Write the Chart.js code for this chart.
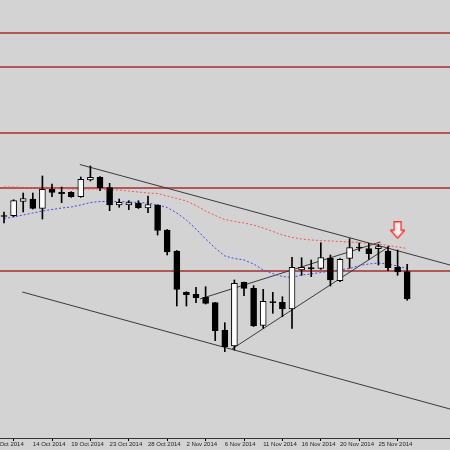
<!DOCTYPE html>
<html>
<head>
<meta charset="utf-8">
<script src="https://cdn.jsdelivr.net/npm/chart.js@4.4.0/dist/chart.umd.min.js"></script>
<style>
  html, body { margin: 0; padding: 0; background: #d3d3d3; }
  canvas { display: block; }
</style>
</head>
<body>
<canvas id="chart" width="450" height="450"></canvas>
<script>
// daily candles, 10 Oct 2014 (bar 1) .. 28 Nov 2014 (bar 43)
const opens  = [222.5, 222.3, 236.7, 239, 229.7, 248.7, 245.7, 245.7, 241.3, 258, 260.7, 250.3, 233, 233, 234.7, 230,
                233, 208, 187, 145.7, 143.7, 140.7, 135.3, 108, 92, 155.7, 149.7, 112.7, 136.3, 135.7, 129, 168,
                170.3, 169.7, 180, 157.3, 179.7, 191, 189.3, 189.3, 187, 170.7, 166.3];
const highs  = [226, 238.3, 245, 245, 262, 254, 251, 246.3, 261, 272, 261.5, 254.7, 239, 237.3, 237.3, 242,
                233.3, 208.5, 187.5, 146.3, 150.7, 151.3, 135.5, 115.3, 158, 156, 152.3, 148.7, 145.7, 141.3, 180.7, 180.3,
                178, 195.3, 183, 179.5, 199.3, 195, 194.7, 193.7, 191.3, 188, 173.7];
const lows   = [215, 221.3, 226, 229, 219, 241.3, 235.3, 240.7, 240.7, 257, 247.3, 227.3, 230.7, 228.3, 229.5, 225.3,
                203, 183, 132, 132, 135.3, 134, 97.3, 86.3, 88, 142.3, 111.5, 109.7, 124.7, 121.3, 109.7, 162.7,
                161.3, 168.7, 152, 156.3, 169.7, 187, 178.7, 173, 167.3, 162.7, 137.7];
const closes = [221.5, 237.3, 239.3, 229.7, 248.7, 245.7, 244.3, 241.3, 258.7, 260.7, 250.3, 233, 235.7, 235.3, 230.3, 233.3,
                207.5, 186, 148.7, 143.3, 140.3, 134.7, 107.3, 91.3, 154.7, 149.7, 112, 136.7, 135.3, 129, 170.7, 170.7,
                169, 180.3, 158, 178.7, 190.3, 190, 184.3, 191.3, 170.3, 166, 139];

// moving averages (dotted)
const maFast = [219.5, 221, 223, 225, 227, 228.5, 230, 231, 233, 235.5, 236.5, 236.5, 236.5, 236, 235.5, 235,
                233, 230.5, 225, 218, 209, 199, 190, 182, 179.5, 178, 174, 168, 164.5, 161.5, 160.5, 163,
                164, 165.5, 167, 168, 169.5, 172.5, 174, 175, 174, 172, 169.5];
const maSlow = [251, 251, 250.5, 250, 250, 250, 249.5, 249, 249, 249, 249, 248.5, 248, 247, 246, 245,
                244.5, 242, 239.5, 237, 232.5, 227, 222.5, 218.5, 216.5, 215, 213, 210, 206.5, 203, 200.5, 199,
                198, 197.5, 197, 196.5, 196, 195.5, 194.5, 194, 192.5, 191, 189.5];

// horizontal levels and trend lines ([bar, price] pairs)
const levels = [405, 371, 305, 250, 167];
const trendLines = [
  [[8.9, 273.5], [47.46, 173]],
  [[2.9, 146], [47.46, 29]],
  [[21.4, 139], [40.2, 196]],
  [[24.75, 89], [41.2, 192]]
];

// one label every 4 bars, starting at bar 0 (9 Oct)
const tickLabels = ['9 Oct 2014', '14 Oct 2014', '19 Oct 2014', '23 Oct 2014', '28 Oct 2014', '2 Nov 2014',
                    '6 Nov 2014', '11 Nov 2014', '16 Nov 2014', '20 Nov 2014', '25 Nov 2014'];

const signalBar = 42;
const signalPrice = 207.8;

const xMin = 0.583, xMax = 47.458;
const bars = opens.map((_, i) => i + 1);

// hollow red down arrow
const arrow = document.createElement('canvas');
arrow.width = 15; arrow.height = 18;
const a = arrow.getContext('2d');
a.beginPath();
a.moveTo(4, 0.5); a.lineTo(11, 0.5); a.lineTo(11, 9); a.lineTo(14.5, 9);
a.lineTo(7.5, 17); a.lineTo(0.5, 9); a.lineTo(4, 9); a.closePath();
a.fillStyle = '#eeeeee'; a.fill();
a.strokeStyle = '#ff3030'; a.lineWidth = 1.3; a.stroke();

const bg = {
  id: 'bg',
  beforeDraw(c) {
    const ctx = c.ctx;
    ctx.save();
    ctx.fillStyle = '#d3d3d3';
    ctx.fillRect(0, 0, c.width, c.height);
    ctx.restore();
  }
};

const flat = v => [{x: xMin, y: v}, {x: xMax, y: v}];

new Chart(document.getElementById('chart'), {
  type: 'bar',
  data: {
    datasets: [
      {
        type: 'scatter',
        data: [{x: signalBar, y: signalPrice}],
        pointStyle: arrow,
        pointRadius: 9,
        order: 0
      },
      {
        data: bars.map((x, i) => ({x, y: [opens[i], closes[i]]})),
        backgroundColor: bars.map((_, i) => closes[i] >= opens[i] ? '#ffffff' : '#000000'),
        borderColor: '#000',
        borderWidth: 1,
        borderSkipped: false,
        barThickness: 6,
        grouped: false,
        order: 1
      },
      {
        data: bars.map((x, i) => ({x, y: [lows[i], highs[i]]})),
        backgroundColor: '#000',
        barThickness: 1,
        grouped: false,
        order: 2
      },
      {
        type: 'line',
        data: bars.map((x, i) => ({x, y: maSlow[i]})),
        borderColor: 'rgb(245,85,85)',
        borderWidth: 1,
        borderDash: [2, 2],
        pointRadius: 0,
        order: 3
      },
      {
        type: 'line',
        data: bars.map((x, i) => ({x, y: maFast[i]})),
        borderColor: 'rgb(70,70,240)',
        borderWidth: 1,
        borderDash: [2, 2],
        pointRadius: 0,
        order: 3
      },
      ...trendLines.map(t => ({
        type: 'line',
        data: t.map(([x, y]) => ({x, y})),
        borderColor: '#3a3a3a',
        borderWidth: 1,
        pointRadius: 0,
        order: 4
      })),
      ...levels.map(v => ({
        type: 'line',
        data: flat(v),
        borderColor: 'rgb(168,45,45)',
        borderWidth: 1.5,
        pointRadius: 0,
        order: 5
      }))
    ]
  },
  options: {
    responsive: false,
    devicePixelRatio: 1,
    animation: false,
    layout: { padding: 0, autoPadding: false },
    plugins: {
      legend: { display: false },
      tooltip: { enabled: false }
    },
    scales: {
      x: {
        type: 'linear',
        min: xMin,
        max: xMax,
        offset: false,
        grid: { drawOnChartArea: false, drawTicks: true, tickLength: 3, color: '#000' },
        border: { display: true, color: '#333', width: 1 },
        ticks: {
          autoSkip: false,
          maxRotation: 0,
          align: 'start',
          padding: 0,
          color: '#222',
          font: { family: 'Liberation Sans', size: 6 },
          callback: (v, k) => tickLabels[k]
        },
        afterBuildTicks: s => { s.ticks = tickLabels.map((_, k) => ({value: k * 4})); },
        afterFit: s => { s.paddingLeft = 0; s.paddingRight = 0; s.height = 12; }
      },
      y: { display: false, min: 0, max: 438 }
    }
  },
  plugins: [bg]
});
</script>
</body>
</html>
